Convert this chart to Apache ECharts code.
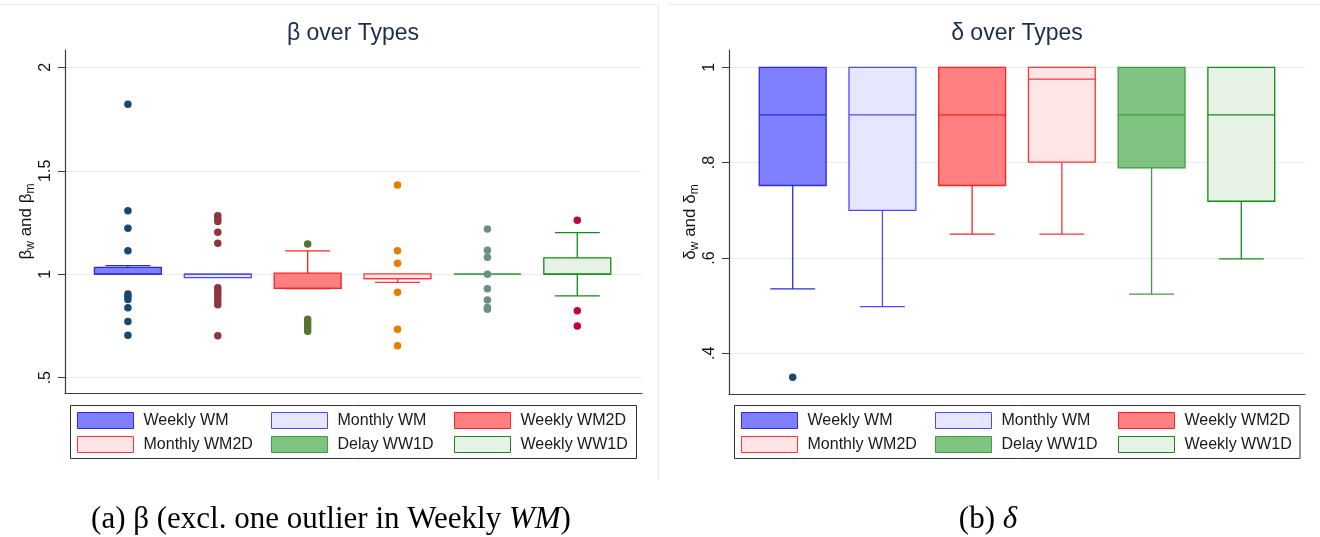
<!DOCTYPE html>
<html><head><meta charset="utf-8">
<script src="https://cdn.jsdelivr.net/npm/echarts@6/dist/echarts.min.js"></script>
<style>html,body{margin:0;padding:0;background:#fff}#c{width:1320px;height:537px}</style>
</head><body><div id="c"></div>
<script>
// ---------- DATA ----------
const groups = ['Weekly WM','Monthly WM','Weekly WM2D','Monthly WM2D','Delay WW1D','Weekly WW1D'];
const groupPos = [1,2,3,4,5,6];
// box stats: [lower whisker, q1, median, q3, upper whisker]
const betaBoxes = [
  [1.000, 1.000, 1.000, 1.033, 1.042],
  [0.984, 0.984, 1.000, 1.000, 1.000],
  [0.930, 0.932, 0.932, 1.005, 1.113],
  [0.961, 0.979, 0.979, 1.002, 1.002],
  [1.000, 1.000, 1.000, 1.000, 1.000],
  [0.895, 1.000, 1.000, 1.079, 1.201]
];
const betaOutliers = [
  [1.821, 1.307, 1.222, 1.114, 0.905, 0.893, 0.878, 0.838, 0.771, 0.705],
  [1.283, 1.267, 1.255, 1.203, 1.150, 0.935, 0.918, 0.902, 0.885, 0.868, 0.853, 0.703],
  [1.146, 0.783, 0.770, 0.755, 0.740, 0.725],
  [1.431, 1.114, 1.053, 0.913, 0.734, 0.654],
  [1.219, 1.116, 1.082, 1.000, 0.930, 0.876, 0.839, 0.831],
  [1.261, 0.823, 0.750]
];
const deltaBoxes = [
  [0.535, 0.752, 0.900, 1.000, 1.000],
  [0.498, 0.700, 0.900, 1.000, 1.000],
  [0.650, 0.752, 0.900, 1.000, 1.000],
  [0.650, 0.801, 0.975, 1.000, 1.000],
  [0.524, 0.789, 0.900, 1.000, 1.000],
  [0.598, 0.719, 0.900, 1.000, 1.000]
];
const deltaOutliers = [[0.350], [], [], [], [], []];
const betaTicks = [0.5, 1, 1.5, 2];
const betaTickLabels = ['.5', '1', '1.5', '2'];
const deltaTicks = [0.4, 0.6, 0.8, 1];
const deltaTickLabels = ['.4', '.6', '.8', '1'];

// ---------- STYLE ----------
const fills   = ['#8080ff', '#e6e6ff', '#ff8080', '#ffe6e6', '#80c280', '#e6f2e6'];
const borders = ['#2828f8', '#4a4aff', '#ff2020', '#ff3434', '#3f9e3f', '#158a15'];
const outColors = ['#1a476f', '#90353b', '#55752f', '#e37e00', '#6e8e84', '#c10534'];
const BOX_W = 0.745, CAP_W = 0.5;
const FONT = 'Liberation Sans, Arial, sans-serif';

function makeRender(fill, stroke) {
  return function (params, api) {
    const x = api.value(0);
    const p = [1, 2, 3, 4, 5].map(i => api.coord([x, api.value(i)]));
    const cx = p[0][0];
    const bw = api.size([BOX_W, 0])[0];
    const cw = api.size([CAP_W, 0])[0];
    const ls = { stroke: stroke, lineWidth: 1.3 };
    const ch = [];
    ch.push({ type: 'line', shape: { x1: cx, y1: p[0][1], x2: cx, y2: p[1][1] }, style: ls });
    ch.push({ type: 'line', shape: { x1: cx, y1: p[3][1], x2: cx, y2: p[4][1] }, style: ls });
    if (api.value(1) < api.value(2))
      ch.push({ type: 'line', shape: { x1: cx - cw / 2, y1: p[0][1], x2: cx + cw / 2, y2: p[0][1] }, style: ls });
    if (api.value(5) > api.value(4))
      ch.push({ type: 'line', shape: { x1: cx - cw / 2, y1: p[4][1], x2: cx + cw / 2, y2: p[4][1] }, style: ls });
    ch.push({ type: 'rect', shape: { x: cx - bw / 2, y: p[3][1], width: bw, height: p[1][1] - p[3][1] },
      style: { fill: fill, stroke: stroke, lineWidth: 1.3 } });
    ch.push({ type: 'line', shape: { x1: cx - bw / 2, y1: p[2][1], x2: cx + bw / 2, y2: p[2][1] }, style: ls });
    return { type: 'group', children: ch };
  };
}

function labelFor(ticks, labels) {
  return v => { const i = ticks.findIndex(t => Math.abs(t - v) < 1e-9); return i >= 0 ? labels[i] : ''; };
}

function yAxisCfg(gi, min, max, ticks, labels, sym) {
  return {
    gridIndex: gi, type: 'value', min: min, max: max,
    axisLine: { show: true, lineStyle: { color: '#3a3a3a', width: 1.2 } },
    axisTick: { show: true, length: 7, customValues: ticks, lineStyle: { color: '#3a3a3a', width: 1 } },
    axisLabel: { show: true, customValues: ticks, rotate: 90, margin: 11, fontSize: 16, color: '#111',
      fontFamily: FONT, formatter: labelFor(ticks, labels) },
    splitLine: { show: false },
    name: '{g|' + sym + '}{s|w}{g| and ' + sym + '}{s|m}',
    nameLocation: 'middle', nameGap: 21, nameRotate: 90,
    nameTextStyle: { fontSize: 17, rich: {
      g: { fontSize: 17, color: '#111', fontFamily: FONT, lineHeight: 22 },
      s: { fontSize: 12, color: '#111', fontFamily: FONT, lineHeight: 10, verticalAlign: 'bottom' }
    } }
  };
}
function xAxisCfg(gi, min, max) {
  return {
    gridIndex: gi, type: 'value', min: min, max: max,
    axisLine: { show: true, onZero: false, lineStyle: { color: '#3a3a3a', width: 1.2 } },
    axisTick: { show: false }, axisLabel: { show: false }, splitLine: { show: false }
  };
}

const series = [];
function addPanel(gi, boxes, outs, ticks) {
  series.push({
    type: 'line', xAxisIndex: gi, yAxisIndex: gi, data: [], z: 0, zlevel: 0, silent: true,
    markLine: { silent: true, symbol: 'none', label: { show: false }, z: 0,
      lineStyle: { color: '#e6eef0', width: 1.2, type: 'solid' },
      emphasis: { disabled: true },
      data: ticks.map(t => ({ yAxis: t })) }
  });
  groups.forEach((g, i) => {
    series.push({
      type: 'custom', name: g, xAxisIndex: gi, yAxisIndex: gi, z: 20,
      itemStyle: { color: fills[i], borderColor: borders[i] },
      renderItem: makeRender(fills[i], borders[i]),
      encode: { x: 0, y: [1, 2, 3, 4, 5] },
      data: [[groupPos[i]].concat(boxes[i])]
    });
    series.push({
      type: 'scatter', name: 'out' + gi + '_' + i, xAxisIndex: gi, yAxisIndex: gi, z: 30,
      symbol: 'circle', symbolSize: 7.5, itemStyle: { color: outColors[gi === 0 ? i : 0], opacity: 1 },
      data: outs[i].map(v => [groupPos[i], v])
    });
  });
}
addPanel(0, betaBoxes, betaOutliers, betaTicks);
addPanel(1, deltaBoxes, deltaOutliers, deltaTicks);

function legendCol(left, names) {
  return {
    orient: 'vertical', left: left, top: 412, padding: 0, itemGap: 7,
    itemWidth: 56, itemHeight: 16, icon: 'rect', selectedMode: false,
    textStyle: { fontSize: 16, color: '#1a1a1a', fontFamily: FONT, lineHeight: 16, padding: [0, 0, 0, 5] },
    data: names.map(n => { const i = groups.indexOf(n);
      return { name: n, itemStyle: { color: fills[i], borderColor: borders[i], borderWidth: 1 } }; })
  };
}
const legendCols = [[groups[0], groups[3]], [groups[1], groups[4]], [groups[2], groups[5]]];
const legends = [];
[77, 271, 454].forEach((l, k) => legends.push(legendCol(l, legendCols[k])));
[741, 935, 1118].forEach((l, k) => legends.push(legendCol(l, legendCols[k])));

const panelLine = { stroke: '#e4ebee', lineWidth: 1 };
const capStyle = { fontSize: 31, fontFamily: 'Liberation Serif, serif', color: '#111' };
const capItal = { fontSize: 31, fontFamily: 'Liberation Serif, serif', color: '#111', fontStyle: 'italic' };
const graphic = [
  { type: 'line', shape: { x1: 0, y1: 4.5, x2: 658.5, y2: 4.5 }, style: panelLine, silent: true },
  { type: 'line', shape: { x1: 658.5, y1: 4.5, x2: 658.5, y2: 480 }, style: panelLine, silent: true },
  { type: 'line', shape: { x1: 668, y1: 4.5, x2: 1320, y2: 4.5 }, style: panelLine, silent: true },
  { type: 'rect', shape: { x: 70.5, y: 405.5, width: 566, height: 53 }, style: { fill: 'none', stroke: '#333', lineWidth: 1 }, silent: true },
  { type: 'rect', shape: { x: 734.5, y: 405.5, width: 565.5, height: 53 }, style: { fill: 'none', stroke: '#333', lineWidth: 1 }, silent: true },
  { type: 'text', x: 353, y: 34, style: { text: 'β over Types', fontSize: 23, fontFamily: FONT, fill: '#1c2d4f', align: 'center', verticalAlign: 'middle' } },
  { type: 'text', x: 1017, y: 34, style: { text: 'δ over Types', fontSize: 23, fontFamily: FONT, fill: '#1c2d4f', align: 'center', verticalAlign: 'middle' } },
  { type: 'text', x: 331, y: 520, style: { text: '{n|(a) β (excl. one outlier in Weekly }{i|WM}{n|)}', align: 'center', verticalAlign: 'middle',
      rich: { n: capStyle, i: capItal } } },
  { type: 'text', x: 988, y: 520, style: { text: '{n|(b) }{i|δ}', align: 'center', verticalAlign: 'middle',
      rich: { n: capStyle, i: capItal } } }
];

const chart = echarts.init(document.getElementById('c'), null, { renderer: 'canvas' });
chart.setOption({
  animation: false,
  backgroundColor: '#fff',
  grid: [
    { left: 65, top: 50, width: 577, height: 343 },
    { left: 729, top: 50, width: 576, height: 344 }
  ],
  xAxis: [xAxisCfg(0, 0.3, 6.72), xAxisCfg(1, 0.29, 6.71)],
  yAxis: [
    yAxisCfg(0, 0.426, 2.0836, betaTicks, betaTickLabels, 'β'),
    yAxisCfg(1, 0.3146, 1.0363, deltaTicks, deltaTickLabels, 'δ')
  ],
  legend: legends,
  graphic: graphic,
  series: series
});
</script>
</body></html>
